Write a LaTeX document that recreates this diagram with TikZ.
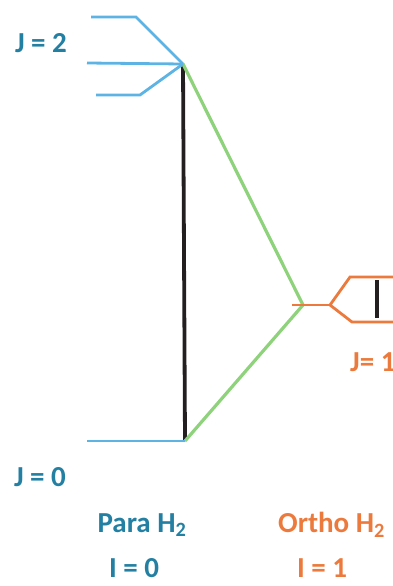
\documentclass[tikz,border=0pt]{standalone}
\usepackage{fontspec}
\setmainfont{Carlito}
\usetikzlibrary{positioning}
\definecolor{parablue}{HTML}{5DB3E3}
\definecolor{parateal}{HTML}{2380A3}
\definecolor{orthoorange}{HTML}{EC7A3C}
\definecolor{linkgreen}{HTML}{8FD27C}
\definecolor{barblack}{HTML}{231F20}

\begin{document}
\begin{tikzpicture}[
    x=1pt, y=-1pt,
    para/.style={draw=parablue, line width=2.8pt},
    ortho/.style={draw=orthoorange, line width=2.8pt},
    link/.style={draw=linkgreen, line width=3.2pt},
    bar/.style={draw=barblack, line width=3.8pt},
    lbl/.style={inner sep=0pt, font=\bfseries\fontsize{29}{32}\selectfont},
    paralbl/.style={lbl, text=parateal},
    ortholbl/.style={lbl, text=orthoorange},
]
    \useasboundingbox (0,0) rectangle (393,586);

    % Para levels
    \coordinate (j2top) at (91,17);
    \coordinate (j2topk) at (136,17);
    \coordinate (j2mid) at (87,63);
    \coordinate (j2) at (183,64);
    \coordinate (j2bot) at (96,95);
    \coordinate (j2botk) at (140,95);
    \coordinate (j0l) at (87,441);
    \coordinate (j0) at (185,441);

    % Ortho levels
    \coordinate (j1l) at (292,305);
    \coordinate (j1) at (303,305);
    \coordinate (j1k) at (330,305);
    \coordinate (j1upk) at (350,277);
    \coordinate (j1up) at (393,277);
    \coordinate (j1dnk) at (352,322);
    \coordinate (j1dn) at (393,322);
    \coordinate (barup) at (377,280);
    \coordinate (bardn) at (377,318);

    % Transitions
    \draw[bar] (j2) -- (j0);
    \draw[bar] (barup) -- (bardn);
    \draw[link] (j2) -- (j1) -- (j0);

    \draw[para] (j2top) -- (j2topk) -- (j2);
    \draw[para] (j2mid) -- (j2);
    \draw[para] (j2bot) -- (j2botk) -- (j2);
    \draw[para] (j0l) -- (j0);

    \draw[ortho] (j1l) -- (j1k);
    \draw[ortho] (j1up) -- (j1upk) -- (j1k) -- (j1dnk) -- (j1dn);

    % Labels
    \node[paralbl] (lj2) at (41,43) {J = 2};
    \node[paralbl] (lj0) at (40,477) {J = 0};
    \node[ortholbl, anchor=west] (lj1) at (350,362) {J= 1};
    \node[paralbl] (para) at (142,525) {Para H\textsubscript{2}};
    \node[ortholbl, anchor=west] (ortho) at (278,525) {Ortho H\textsubscript{2}};
    \node[paralbl] (ipara) at (134,568) {I = 0};
    \node[ortholbl] (iortho) at (322,568) {I = 1};
\end{tikzpicture}
\end{document}
